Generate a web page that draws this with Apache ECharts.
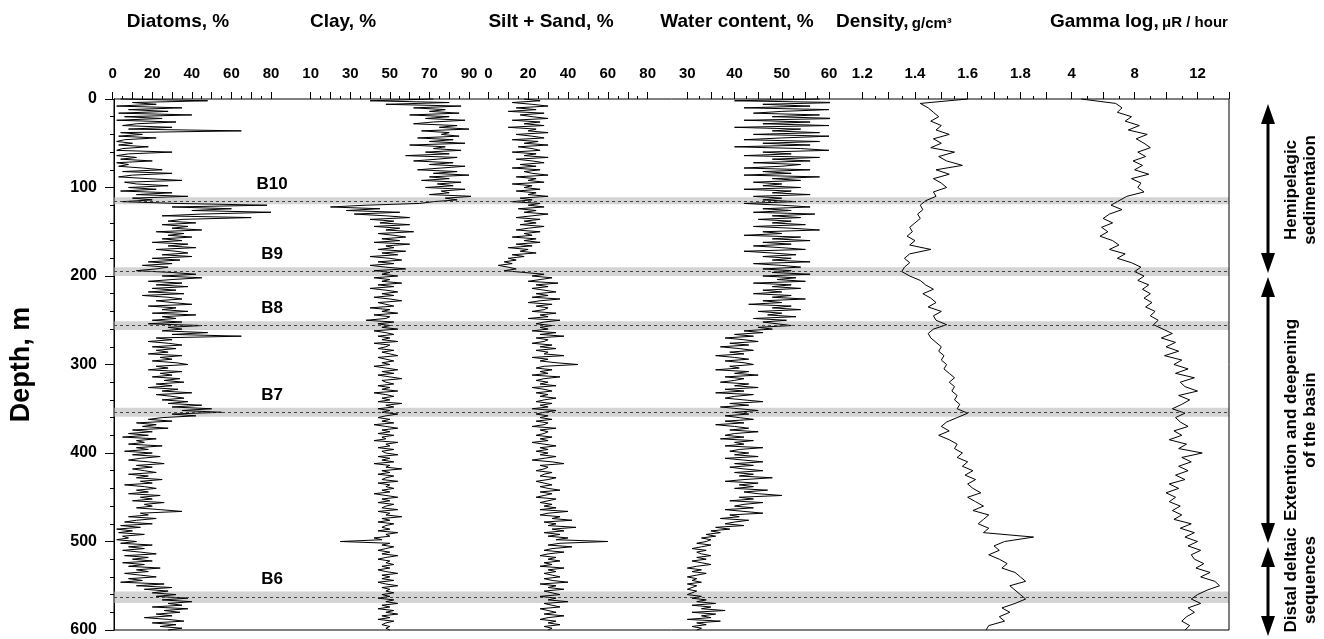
<!DOCTYPE html>
<html><head><meta charset="utf-8">
<script src="https://cdn.jsdelivr.net/npm/echarts@6/dist/echarts.min.js"></script>
<style>html,body{margin:0;padding:0;background:#fff}#c{width:1324px;height:639px}</style>
</head><body><div id="c"></div>
<script>
// Depth sampling steps (m)
const fineStep = 2;
const coarseStep = 5;

const diatoms = [
4,48,10,22,2,35,8,28,3,40, 6,25,2,32,12,5,30,8,65,4, 15,3,22,6,2,10,3,18,5,2, 30,8,2,12,4,20,2,8,3,15,
25,5,30,10,3,18,35,6,12,28, 8,22,4,30,12,38,10,20,5,32, 78,30,60,40,80,45,25,70,35,28, 42,25,38,30,45,22,36,28,40,25,
35,20,38,28,42,22,32,38,25,40, 20,34,18,30,15,28,22,12,30,42, 25,45,30,18,35,22,38,20,32,18, 36,15,28,35,22,30,40,18,32,25,
38,20,42,25,32,20,35,18,45,28, 35,25,48,30,65,22,30,18,28,35, 20,32,22,28,18,35,24,30,20,32, 38,22,28,18,35,24,30,20,34,26,
36,22,30,18,33,25,40,22,30,36, 25,38,28,45,30,50,35,55,30,42, 25,18,30,12,22,15,28,10,20,8, 18,5,22,12,16,8,25,12,18,6,
20,10,24,14,8,18,26,12,20,10, 16,22,8,18,12,25,14,20,6,16, 22,12,18,8,24,14,20,10,26,16, 20,12,24,35,14,18,8,22,12,6,
20,4,14,2,10,3,16,5,8,2, 12,4,20,8,16,5,14,22,6,18, 10,20,5,16,8,24,12,18,6,14, 22,8,15,4,26,12,30,16,28,20,
32,22,38,25,40,28,35,20,38,26, 34,22,30,16,28,36,20,32,24,35, 28];

const clay = [
72,40,80,48,86,62,78,70,85,60, 80,68,88,72,62,84,75,90,66,80, 76,85,64,82,70,88,60,78,72,86, 68,80,58,84,74,62,82,70,88,76,
64,84,72,90,70,80,66,86,74,82, 68,88,76,80,70,92,78,84,72,65, 38,20,45,28,55,32,48,60,40,52, 45,60,42,55,48,62,44,52,58,46,
55,42,60,48,52,44,58,46,54,40, 50,56,44,52,40,48,58,42,50,46, 54,42,50,46,56,44,52,40,48,54, 46,52,42,50,56,44,48,52,40,50,
46,54,42,50,48,38,52,44,50,46, 54,42,48,52,44,50,46,54,42,50, 48,44,52,46,50,54,44,48,52,46, 50,42,48,54,46,52,44,50,56,46,
48,52,44,50,46,54,42,48,52,46, 50,44,56,48,52,44,50,46,54,48, 44,50,46,52,42,48,54,46,50,44, 52,46,48,42,54,48,50,44,52,46,
48,54,44,50,46,52,42,50,48,56, 46,50,44,52,48,46,54,44,50,48, 52,46,50,42,48,54,46,50,44,52, 48,46,54,44,50,48,56,46,50,44,
52,48,46,50,44,54,48,50,42,46, 25,50,46,52,48,44,50,46,54,48, 44,50,48,52,46,50,44,48,54,46, 50,46,52,44,48,54,46,50,48,52,
46,50,44,52,48,54,46,50,44,52, 48,54,46,50,44,52,48,46,50,48, 50];

const siltSand = [
18,26,12,22,30,14,24,10,28,16, 22,30,12,26,18,28,10,24,20,30, 14,22,28,12,25,18,30,15,22,26, 12,24,18,30,14,22,28,16,24,12,
26,18,22,30,14,24,20,28,12,22, 18,26,14,24,20,30,16,22,12,26, 20,28,15,24,18,30,22,14,26,18, 24,16,28,20,14,26,18,22,12,24,
18,26,14,22,10,20,16,24,12,18, 10,14,8,12,5,10,14,8,18,28, 22,32,26,20,35,24,30,22,28,34, 24,30,22,36,26,20,32,24,30,28,
22,34,26,30,20,36,28,24,32,26, 30,22,34,26,38,24,30,28,22,32, 26,34,24,30,28,38,22,30,26,34, 45,28,24,32,26,30,22,36,28,24,
30,26,34,22,28,32,24,30,26,34, 28,24,32,26,30,22,34,28,24,30, 26,32,24,30,28,22,34,26,30,28, 24,32,26,30,22,28,34,26,30,24,
30,26,34,28,22,32,38,26,30,28, 24,32,28,26,34,30,24,28,32,26, 30,36,26,32,28,24,34,30,26,32, 28,34,26,40,30,26,36,32,42,28,
34,30,44,32,38,28,36,30,40,34, 60,36,30,42,32,28,38,30,26,34, 30,36,28,32,26,38,30,34,28,32, 36,28,32,40,26,34,30,38,28,32,
36,26,34,30,40,28,32,36,26,30, 34,28,38,30,26,34,30,36,28,32, 30];

const water = [
58,40,62,46,56,42,60,50,44,58, 48,62,42,56,46,60,40,54,48,58, 44,60,50,42,58,46,56,40,54,60, 46,52,42,58,48,56,44,54,50,42,
56,46,52,42,58,48,54,44,50,46, 54,42,52,48,56,44,50,46,53,42, 50,56,46,52,44,57,48,54,45,52, 48,55,44,52,58,46,50,42,54,48,
56,46,52,44,50,55,42,48,53,46, 52,48,56,44,50,54,46,52,48,56, 46,53,49,55,44,52,48,54,46,50, 44,52,48,55,46,50,43,52,48,54,
45,50,47,53,44,51,46,49,52,45, 48,42,46,40,44,38,42,45,39,43, 37,41,44,39,42,36,40,43,38,42, 44,39,41,36,43,40,45,38,42,40,
37,43,40,45,38,42,36,44,40,38, 42,46,39,43,37,41,45,40,43,38, 41,44,38,42,36,40,43,39,45,40, 38,42,37,44,40,42,38,46,41,39,
43,40,45,38,42,46,40,44,39,42, 46,40,44,41,48,42,38,45,41,44, 40,47,42,45,50,41,44,39,46,42, 40,44,38,42,46,39,41,37,43,40,
38,42,36,39,35,37,34,36,33,35, 34,32,35,33,31,34,32,33,35,32, 34,31,33,35,32,30,33,31,34,32, 30,32,31,33,30,32,31,30,32,31,
30,33,31,34,32,36,31,35,33,38, 31,36,33,35,30,37,32,34,31,33, 32];

const density = [
1.6,1.42,1.45,1.47,1.49,1.46,1.5,1.48,1.53,1.47, 1.5,1.46,1.55,1.49,1.52,1.58,1.48,1.53,1.47,1.5,
1.52,1.47,1.48,1.44,1.42,1.43,1.41,1.42,1.4,1.38, 1.39,1.37,1.4,1.38,1.46,1.38,1.36,1.38,1.36,1.35,
1.38,1.42,1.44,1.47,1.43,1.46,1.48,1.45,1.5,1.47, 1.48,1.52,1.47,1.45,1.46,1.48,1.5,1.49,1.51,1.5,
1.52,1.51,1.53,1.55,1.53,1.55,1.54,1.56,1.55,1.57, 1.56,1.6,1.56,1.52,1.5,1.53,1.49,1.53,1.56,1.55,
1.58,1.56,1.6,1.58,1.62,1.59,1.63,1.6,1.62,1.65, 1.6,1.63,1.66,1.62,1.68,1.66,1.64,1.68,1.66,1.85,
1.74,1.7,1.72,1.68,1.72,1.75,1.73,1.78,1.8,1.82, 1.76,1.78,1.8,1.82,1.78,1.73,1.76,1.72,1.74,1.68, 1.67];

const gamma = [
4.6,6.8,7.2,6.9,7.8,7.4,8.3,7.6,8.8,8.1, 8.6,9.0,8.2,8.7,7.9,8.5,8.0,8.9,7.8,8.4,
8.2,8.6,7.5,7.0,6.5,7.2,6.4,6.0,6.6,5.9, 6.3,5.8,6.6,7.0,6.4,7.4,6.9,7.8,8.4,8.0,
8.6,8.2,8.9,8.5,9.0,8.6,9.1,8.7,9.3,9.0, 9.5,9.2,9.8,10.4,9.7,10.6,10.0,10.8,9.9,11.0,
10.5,11.4,10.6,11.8,10.9,11.2,12.0,10.8,11.5,11.0, 10.4,11.2,10.6,10.9,11.4,10.5,11.0,10.2,11.3,10.8,
12.3,11.0,11.6,10.8,11.4,10.6,11.2,10.2,10.8,10.0, 10.6,10.2,10.9,10.4,11.0,10.5,11.6,10.9,11.8,11.2,
12.0,11.4,12.2,11.6,11.8,12.4,11.9,12.8,12.2,13.1, 13.4,12.6,12.0,11.6,12.2,11.4,11.8,11.3,11.0,11.5, 11.2];

const bandNames = ['B10','B9','B8','B7','B6'];
const bandDepths = [115, 195, 256, 354, 563];
const bandHalf = [4, 5, 5, 5, 6.5];

const panelTitles = ['Diatoms, %','Clay, %','Silt + Sand, %','Water content, %'];

const FONT = "'Liberation Sans', Arial, sans-serif";
const chart = echarts.init(document.getElementById('c'), null, {renderer:'canvas'});

const panels = [
  {left:112.7, width:158.3, min:0, max:80, interval:10, lab:v=>v%20===0, data:diatoms, step:fineStep},
  {left:310.7, width:158.3, min:10, max:90, interval:10, lab:v=>(v-10)%20===0, data:clay, step:fineStep},
  {left:488.3, width:159.4, min:0, max:80, interval:10, lab:v=>v%20===0, data:siltSand, step:fineStep},
  {left:687.3, width:141.7, min:30, max:60, interval:5, lab:v=>v%10===0, data:water, step:fineStep},
  {left:862.3, width:184.4, min:1.2, max:1.9, interval:0.1, lab:v=>{const t=Math.round(v*10);return t%2===0 && t<=18;}, data:density, step:coarseStep, dec:1},
  {left:1071.7, width:157.3, min:4, max:14, interval:2, lab:v=>v%4===0, data:gamma, step:coarseStep}
];

const grids = [{left:112, top:99, width:1117, height:531, show:true, borderColor:'#000', borderWidth:1, backgroundColor:'transparent', z:5}];
const xAxes = [{gridIndex:0, type:'value', min:0, max:1, show:false}];
const yAxes = [{gridIndex:0, type:'value', min:0, max:600, interval:100, inverse:true,
  axisLine:{show:true, lineStyle:{color:'#000', width:1}},
  axisTick:{show:true, length:9, lineStyle:{color:'#000'}},
  minorTick:{show:true, splitNumber:5, length:4, lineStyle:{color:'#000'}},
  splitLine:{show:false},
  axisLabel:{color:'#000', fontSize:16, fontWeight:'bold', fontFamily:FONT, margin:17},
  name:'Depth, m', nameLocation:'middle', nameGap:79,
  nameTextStyle:{color:'#000', fontSize:27, fontWeight:'bold', fontFamily:FONT}}];
const series = [{
  type:'line', xAxisIndex:0, yAxisIndex:0, data:[], silent:true, z:1,
  markArea:{silent:true, itemStyle:{color:'#d4d4d4'}, label:{show:false},
    data: bandDepths.map((d,k)=>[{yAxis:d-bandHalf[k]},{yAxis:d+bandHalf[k]}])},
  markLine:{silent:true, symbol:'none', label:{show:false}, lineStyle:{color:'#444', type:[3,3], width:1},
    data: bandDepths.map(d=>({yAxis:d}))}
}];

panels.forEach((p,i)=>{
  const gi = i+1;
  grids.push({left:p.left, top:99, width:p.width, height:531});
  xAxes.push({gridIndex:gi, type:'value', position:'top', min:p.min, max:p.max, interval:p.interval,
    axisLine:{show:false, onZero:false},
    axisTick:{show:true, length:7, lineStyle:{color:'#000'}},
    minorTick:{show:true, splitNumber:2, length:3, lineStyle:{color:'#000'}},
    splitLine:{show:false},
    axisLabel:{color:'#000', fontSize:15, fontWeight:'bold', fontFamily:FONT, margin:18, showMinLabel:true, showMaxLabel:true,
      formatter:v=>p.lab(v) ? (p.dec ? Number(v).toFixed(1) : String(Math.round(v))) : ''}});
  yAxes.push({gridIndex:gi, type:'value', min:0, max:600, inverse:true, show:false});
  series.push({type:'line', xAxisIndex:gi, yAxisIndex:gi, showSymbol:false, symbol:'none', clip:false, silent:true, z:3,
    lineStyle:{color:'#000', width:1}, data:p.data.map((v,j)=>[v, j*p.step])});
});

const titleY = 22;
const TF = `bold 19px ${FONT}`;
const UF = `bold 15px ${FONT}`;
const graphic = [
  {type:'text', x:178, y:titleY, style:{text:panelTitles[0], font:TF, fill:'#000', textAlign:'center', textVerticalAlign:'middle'}},
  {type:'text', x:343, y:titleY, style:{text:panelTitles[1], font:TF, fill:'#000', textAlign:'center', textVerticalAlign:'middle'}},
  {type:'text', x:551, y:titleY, style:{text:panelTitles[2], font:TF, fill:'#000', textAlign:'center', textVerticalAlign:'middle'}},
  {type:'text', x:737, y:titleY, style:{text:panelTitles[3], font:TF, fill:'#000', textAlign:'center', textVerticalAlign:'middle'}},
  {type:'text', x:836, y:titleY, style:{text:'{a|Density,} {b|g/cm³}', textAlign:'left', textVerticalAlign:'middle',
    rich:{a:{font:TF, fill:'#000'}, b:{font:UF, fill:'#000', padding:[3,0,0,0]}}}},
  {type:'text', x:1050, y:titleY, style:{text:'{a|Gamma log,} {b|μR / hour}', textAlign:'left', textVerticalAlign:'middle',
    rich:{a:{font:TF, fill:'#000'}, b:{font:UF, fill:'#000', padding:[2,0,0,0]}}}}
];

// right-side arrows
function arrow(x, y1, y2){
  const hw = 7, hh = 20;
  return [
    {type:'line', shape:{x1:x, y1:y1+hh-2, x2:x, y2:y2-hh+2}, style:{stroke:'#000', lineWidth:3}},
    {type:'polygon', shape:{points:[[x,y1],[x-hw,y1+hh],[x+hw,y1+hh]]}, style:{fill:'#000'}},
    {type:'polygon', shape:{points:[[x,y2],[x-hw,y2-hh],[x+hw,y2-hh]]}, style:{fill:'#000'}}
  ];
}
graphic.push(...arrow(1268, 104, 273), ...arrow(1268, 277, 543), ...arrow(1268, 547, 636));
const sideText = [
  {t:'Hemipelagic\nsedimentaion', y:190},
  {t:'Extention and deepening\nof the basin', y:420},
  {t:'Distal deltaic\nsequences', y:580}
];
sideText.forEach(s=>graphic.push({type:'text', x:1301, y:s.y, rotation:Math.PI/2,
  style:{text:s.t, font:`bold 17px ${FONT}`, fill:'#000', textAlign:'center', textVerticalAlign:'middle', lineHeight:19}}));

chart.setOption({animation:false, backgroundColor:'#fff', grid:grids, xAxis:xAxes, yAxis:yAxes, series:series, graphic:graphic});

// band labels positioned from the depth scale
const extra = bandDepths.map((d,k)=>{
  const py = chart.convertToPixel({xAxisIndex:0, yAxisIndex:0}, [0, d - bandHalf[k]])[1];
  return {type:'text', x:272, y:py-4, style:{text:bandNames[k], font:`bold 17px ${FONT}`, fill:'#000', textAlign:'center', textVerticalAlign:'bottom'}};
});
chart.setOption({graphic: graphic.concat(extra)});
</script></body></html>
